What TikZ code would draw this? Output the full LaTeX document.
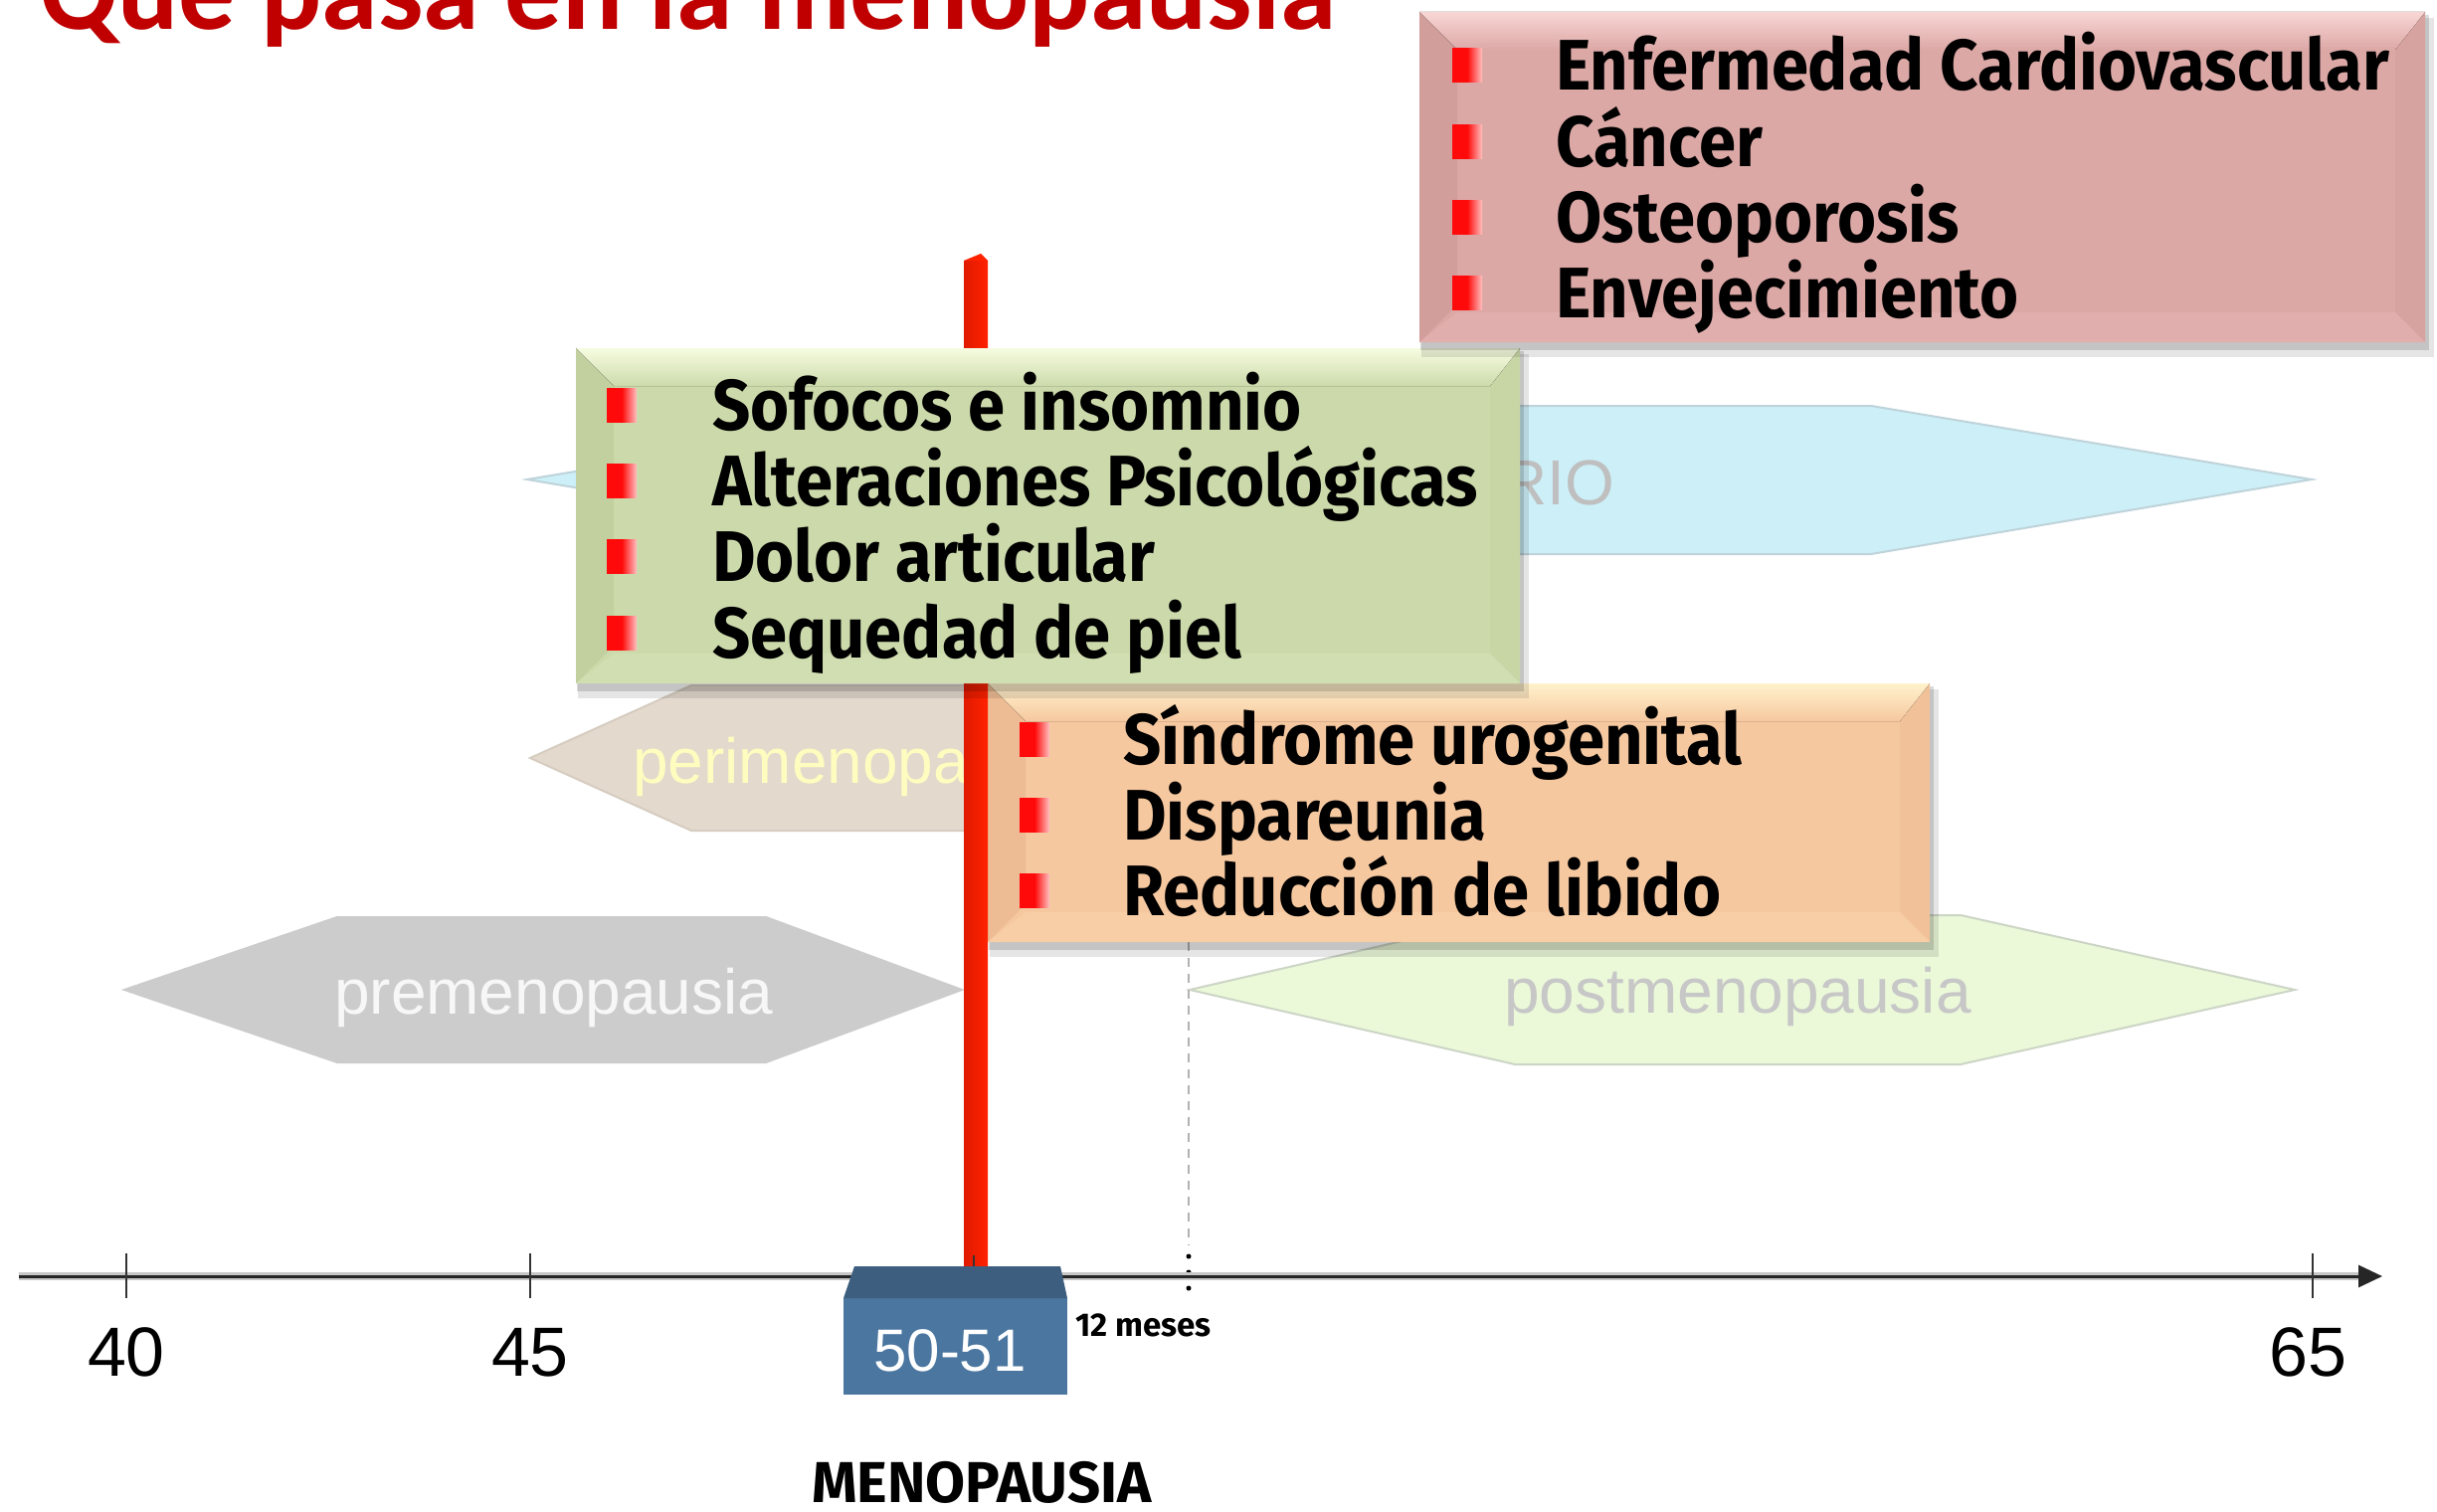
\documentclass[tikz,border=0pt]{standalone}
\usepackage{fontspec}
\setmainfont{Liberation Sans}
\newfontfamily\comic[FakeStretch=0.93]{Fira Sans}
\newfontfamily\comicw{Fira Sans}
\newfontfamily\titlefont{Carlito}
\usetikzlibrary{arrows.meta}
\definecolor{pkmain}{HTML}{DCA8A6}\definecolor{pktop}{HTML}{F8D6D4}\definecolor{pkleft}{HTML}{D29E9C}\definecolor{pkright}{HTML}{D7A3A1}\definecolor{pkbot}{HTML}{E0AEAC}
\definecolor{grmain}{HTML}{CCDAAB}\definecolor{grtop}{HTML}{F6FCE0}\definecolor{grleft}{HTML}{C2D09F}\definecolor{grright}{HTML}{C8D6A6}\definecolor{grbot}{HTML}{D1DEB1}
\definecolor{ormain}{HTML}{F6C8A0}\definecolor{ortop}{HTML}{FFF2CC}\definecolor{orleft}{HTML}{EDBC94}\definecolor{orright}{HTML}{F1C29A}\definecolor{orbot}{HTML}{F8CEA6}
\definecolor{titlered}{HTML}{C00000}
\definecolor{barred}{HTML}{FF2200}\definecolor{barreddk}{HTML}{E01A00}
\definecolor{bulred}{HTML}{FF0A0A}\definecolor{bulpink}{HTML}{FFC0C0}
\definecolor{hexblue}{HTML}{CCEFF8}\definecolor{hexblueln}{HTML}{BFD3DA}
\definecolor{hexperi}{HTML}{E3D9CD}\definecolor{hexperiln}{HTML}{D6CCC0}
\definecolor{hexpre}{HTML}{CCCCCC}
\definecolor{hexpost}{HTML}{EBF9D9}\definecolor{hexpostln}{HTML}{CDD5C6}
\definecolor{boxmain}{HTML}{4A76A0}\definecolor{boxtop}{HTML}{3E5E80}
\newcommand\bevelbox[6]{%
  \fill[black,opacity=.10] (#2+2,#3+6) rectangle (#4+9,#5+15);
  \fill[black,opacity=.14] (#2+1,#3+3) rectangle (#4+4,#5+8);
  \node[inner sep=0pt, outer sep=0pt, minimum width={#4-#2}, minimum height={#5-#3}, fill=#6main] (#1) at ({(#2+#4)/2},{(#3+#5)/2}) {};
  \fill[#6left] (#2,#3) -- (#2+38,#3+38) -- (#2+38,#5-38) -- (#2,#5) -- cycle;
  \fill[#6right] (#4,#3) -- (#4-30,#3+30) -- (#4-30,#5-30) -- (#4,#5) -- cycle;
  \fill[#6bot] (#2,#5) -- (#2+38,#5-30) -- (#4-30,#5-30) -- (#4,#5) -- cycle;
  \fill[top color=#6top, bottom color=#6main] (#2,#3) -- (#4,#3) -- (#4-30,#3+38) -- (#2+38,#3+38) -- cycle;
}
\begin{document}
\begin{tikzpicture}[x=1pt,y=-1pt,
  itm/.style={anchor=base west, inner sep=0pt, font={\comic\bfseries\fontsize{72}{80}\selectfont}},
  bul/.style={inner sep=0pt, minimum width=30pt, minimum height=34pt, left color=bulred, right color=bulpink, middle color=bulred},
  hexlbl/.style={anchor=base west, inner sep=0pt, font={\fontsize{64}{70}\selectfont}},
  agelbl/.style={anchor=base, inner sep=0pt, font={\fontsize{70}{76}\selectfont}},
  tick/.style={line width=2pt, black!80}]
\useasboundingbox (0,0) rectangle (2450,1520);
\fill[white] (0,0) rectangle (2450,1520);

% title
\node[anchor=base west, inner sep=0pt, text=titlered, font={\titlefont\bfseries\fontsize{114}{120}\selectfont}] (titulo) at (40,30) {Qué pasa en la menopausia};

% phase hexagons
\filldraw[fill=hexblue, draw=hexblueln, line width=2pt] (530,482) -- (973,408) -- (1881,408) -- (2324,482) -- (1881,557) -- (973,557) -- cycle;
\node[anchor=base east, inner sep=0pt, text=black!25, font={\fontsize{64}{70}\selectfont}] (clima) at (1623,507) {RIO};
\filldraw[fill=hexperi, draw=hexperiln, line width=2pt] (533,762) -- (695,689) -- (1050,689) -- (1212,762) -- (1050,835) -- (695,835) -- cycle;
\node[hexlbl, text=yellow!25] (peri) at (636,787) {perimenopausia};
\filldraw[fill=hexpre, draw=hexpre, line width=2pt] (125,995) -- (339,922) -- (770,922) -- (967,995) -- (770,1068) -- (339,1068) -- cycle;
\node[hexlbl, text=white!97!black] (pre) at (336,1019) {premenopausia};
\filldraw[fill=hexpost, draw=hexpostln, line width=2pt] (1196,995) -- (1523,920) -- (1971,920) -- (2307,995) -- (1971,1070) -- (1523,1070) -- cycle;
\node[hexlbl, text=black!22] (post) at (1512,1018) {postmenopausia};

% 12-month marker line
\coordinate (m12top) at (1195,947);
\coordinate (m12mid) at (1195,1252);
\coordinate (m12bot) at (1195,1302);
\draw[black!30, line width=2.5pt, dash pattern=on 9pt off 7pt] (m12top) -- (m12mid);
\draw[black, line width=5pt, line cap=round, dash pattern=on 0pt off 16pt] (1195,1263) -- (m12bot);

% orange box
\bevelbox{uro}{993}{687}{1940}{947}{or}
% red menopause bar
\fill[left color=barreddk, right color=barred] (969,262) rectangle (993,1276);
\fill[barred] (969,262) -- (986,255) -- (993,262) -- cycle;
% green box
\bevelbox{sint}{579}{350}{1528}{687}{gr}
% pink box
\bevelbox{riesgo}{1427}{12}{2438}{344}{pk}

% pink items
\node[bul] (pb1) at (1475,66) {};
\node[bul] (pb2) at (1475,142) {};
\node[bul] (pb3) at (1475,218) {};
\node[bul] (pb4) at (1475,294) {};
\node[itm] (p1) at (1564,91) {Enfermedad Cardiovascular};
\node[itm] (p2) at (1564,167) {Cáncer};
\node[itm] (p3) at (1564,243) {Osteoporosis};
\node[itm] (p4) at (1564,319) {Envejecimiento};
% green items
\node[bul] (gb1) at (625,407) {};
\node[bul] (gb2) at (625,483) {};
\node[bul] (gb3) at (625,559) {};
\node[bul] (gb4) at (625,636) {};
\node[itm] (g1) at (716,432) {Sofocos e insomnio};
\node[itm] (g2) at (716,508) {Alteraciones Psicológicas};
\node[itm] (g3) at (716,584) {Dolor articular};
\node[itm] (g4) at (716,661) {Sequedad de piel};
% orange items
\node[bul] (ob1) at (1040,743) {};
\node[bul] (ob2) at (1040,819) {};
\node[bul] (ob3) at (1040,895) {};
\node[itm] (o1) at (1129,768) {Síndrome urogenital};
\node[itm] (o2) at (1129,844) {Dispareunia};
\node[itm] (o3) at (1129,920) {Reducción de libido};

% axis
\coordinate (ax0) at (19,1283);
\coordinate (ax1) at (2395,1283);
\draw[black!22, line width=8pt] (ax0) -- (2375,1283);
\draw[black!85, line width=3pt, -{Triangle[length=24pt,width=22pt]}] (ax0) -- (ax1);
\draw[tick] (127,1260) -- (127,1305);
\draw[tick] (533,1260) -- (533,1305);
\draw[tick] (979,1262) -- (979,1305);
\draw[tick] (2325,1260) -- (2325,1305);
\node[agelbl] (a40) at (127,1383) {40};
\node[agelbl] (a45) at (533,1383) {45};
\node[agelbl] (a65) at (2320,1383) {65};

% 50-51 box
\fill[boxmain] (848,1305) rectangle (1073,1402);
\fill[boxtop] (859,1273) -- (1066,1273) -- (1073,1305) -- (848,1305) -- cycle;
\node[anchor=base, inner sep=0pt, text=white, font={\fontsize{60}{66}\selectfont}] (edad) at (955,1378) {50-51};
\node[anchor=base west, inner sep=0pt, font={\comicw\bfseries\fontsize{33}{36}\selectfont}] (meses) at (1081,1343) {12 meses};
\node[anchor=base west, inner sep=0pt, font={\comicw\bfseries\fontsize{58}{62}\selectfont}] (meno) at (816,1510) {MENOPAUSIA};
\end{tikzpicture}
\end{document}
